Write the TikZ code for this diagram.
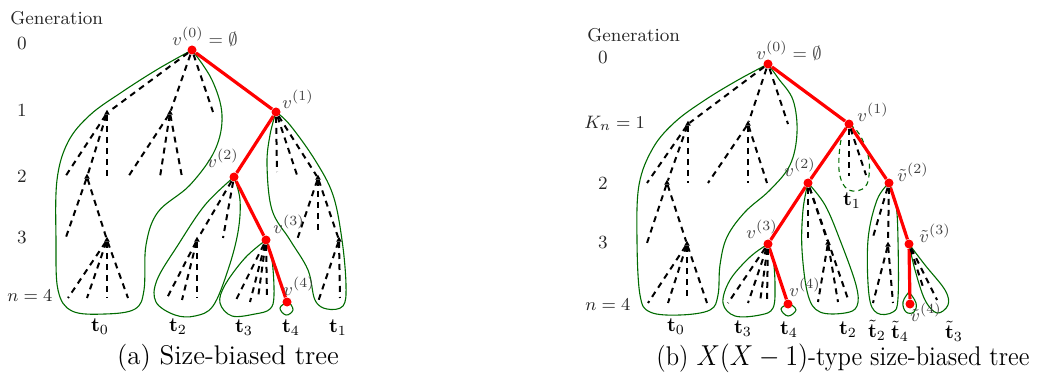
\documentclass[tikz,border=0pt]{standalone}
\usetikzlibrary{shapes.geometric}
\begin{document}
\begin{tikzpicture}[x=0.5pt,y=-0.5pt,
 dsh/.style={black, line width=1pt, dash pattern=on 3pt off 2.5pt},
 redge/.style={red, line width=1.6pt},
 rdot/.style={circle, fill=red, inner sep=0pt, minimum size=4.5pt},
 cont/.style={green!42!black, line width=0.55pt},
 contd/.style={green!42!black, line width=0.55pt, dash pattern=on 2.5pt off 2pt},
 tri/.style={regular polygon, regular polygon sides=3, fill=black, inner sep=0pt, minimum size=3.2pt},
 lbl/.style={text=black!75, font=\fontsize{9.5}{11}\selectfont, inner sep=0pt},
 gen/.style={text=black!85, font=\fontsize{9.3}{11}\selectfont, inner sep=0pt},
 tl/.style={font=\fontsize{9.6}{11}\selectfont, inner sep=0pt},
 captext/.style={font=\fontsize{13.5}{15}\selectfont, inner sep=0pt}]
\useasboundingbox (0,0) rectangle (1040,385);

%%%%%%%%%%%%%%%% LEFT TREE %%%%%%%%%%%%%%%%
\node[gen, anchor=west] (Lgen) at (10,18) {Generation};
\node[gen] (Lg0) at (22,44) {0};
\node[gen] (Lg1) at (22,110) {1};
\node[gen] (Lg2) at (22,176) {2};
\node[gen] (Lg3) at (22,238) {3};
\node[gen, anchor=west] (Lg4) at (7,296) {$n=4$};

% contours
\draw[cont] plot[smooth, tension=0.6] coordinates {(192,50) (158,69) (122,92) (90,115) (68,142) (57,180) (56,240) (58,290) (72,311) (105,314) (135,309) (144,290) (146,245) (158,212) (190,185) (215,150) (222,115) (212,80) (192,50)};
\draw[cont] plot[smooth, tension=0.6] coordinates {(234,177) (205,205) (178,245) (157,280) (156,302) (175,315) (195,316) (213,306) (228,270) (238,232) (240,200) (234,177)};
\draw[cont] plot[smooth, tension=0.6] coordinates {(266,240) (245,258) (225,285) (220,303) (232,316) (255,314) (270,309) (274,295) (272,260) (266,240)};
\draw[cont] plot[smooth, tension=0.7] coordinates {(287,302) (280,308) (286,315) (293,310) (289,302)};
\draw[cont] plot[smooth, tension=0.6] coordinates {(276,112) (270,135) (267,165) (272,210) (290,240) (308,270) (315,300) (327,309) (343,306) (346,285) (342,240) (333,195) (315,160) (290,125) (276,112)};

% red spine
\node[rdot] (Lv0) at (192,50) {};
\node[rdot] (Lv1) at (276,112) {};
\node[rdot] (Lv2) at (234,177) {};
\node[rdot] (Lv3) at (266,240) {};
\node[rdot] (Lv4) at (287,302) {};
\draw[redge] (Lv0) -- (Lv1);
\draw[redge] (Lv1) -- (Lv2);
\draw[redge] (Lv2) -- (Lv3);
\draw[redge] (Lv3) -- (Lv4);

% dashed subtree points
\node[tri] (La1) at (107,113) {};
\node[tri] (La2) at (170,113) {};
\coordinate (La3) at (213,112);
\coordinate (Lb1) at (65,177);
\node[tri] (Lb2) at (87,177) {};
\coordinate (Lb3) at (107,177);
\coordinate (Lb4) at (128,177);
\coordinate (Lb5) at (160,177);
\coordinate (Lb6) at (182,177);
\coordinate (Lc1) at (65,240);
\node[tri] (Lc2) at (107,240) {};
\coordinate (Ld1) at (68,298);
\coordinate (Ld2) at (87,298);
\coordinate (Ld3) at (107,298);
\coordinate (Ld4) at (128,298);
\node[tri] (Le1) at (197,240) {};
\coordinate (Le2) at (223,238);
\coordinate (Le3) at (167,298);
\coordinate (Le4) at (182,300);
\coordinate (Le5) at (197,298);
\coordinate (Lf1) at (235,302);
\coordinate (Lf2) at (250,302);
\coordinate (Lf3) at (258,298);
\coordinate (Lf4) at (267,298);
\coordinate (Lg1) at (277,172);
\coordinate (Lg2) at (297,175);
\node[tri] (Lg3) at (318,178) {};
\coordinate (Lg4) at (297,240);
\coordinate (Lg5) at (318,235);
\node[tri] (Lg6) at (339,240) {};
\coordinate (Lg7) at (318,302);
\coordinate (Lg8) at (340,298);

\foreach \a/\b in {Lv0/La1, Lv0/La2, Lv0/La3, La1/Lb1, La1/Lb2, La1/Lb3, La2/Lb4, La2/Lb5, La2/Lb6,
  Lb2/Lc1, Lb2/Lc2, Lc2/Ld1, Lc2/Ld2, Lc2/Ld3, Lc2/Ld4,
  Lv2/Le1, Lv2/Le2, Le1/Le3, Le1/Le4, Le1/Le5,
  Lv3/Lf1, Lv3/Lf2, Lv3/Lf3, Lv3/Lf4,
  Lv1/Lg1, Lv1/Lg2, Lv1/Lg3, Lg3/Lg4, Lg3/Lg5, Lg3/Lg6, Lg6/Lg7, Lg6/Lg8}
  \draw[dsh] (\a) -- (\b);

% labels
\node[lbl] (Ll0) at (205,37) {$v^{(0)}=\emptyset$};
\node[lbl] (Ll1) at (298,99) {$v^{(1)}$};
\node[lbl] (Ll2) at (223,158) {$v^{(2)}$};
\node[lbl] (Ll3) at (289,224) {$v^{(3)}$};
\node[lbl] (Ll4) at (299,286) {$v^{(4)}$};

\node[tl] (Lt0) at (100,327) {$\mathbf{t}_0$};
\node[tl] (Lt2) at (178,327) {$\mathbf{t}_2$};
\node[tl] (Lt3) at (244,328) {$\mathbf{t}_3$};
\node[tl] (Lt4) at (291,328) {$\mathbf{t}_4$};
\node[tl] (Lt1) at (338,328) {$\mathbf{t}_1$};

\node[captext] (capa) at (228,358) {(a) Size-biased tree};

%%%%%%%%%%%%%%%% RIGHT TREE %%%%%%%%%%%%%%%%
\node[gen, anchor=west] (Rgen) at (587,35) {Generation};
\node[gen] (Rg0) at (603,58) {0};
\node[gen, anchor=west] (Rg1) at (584,123) {$K_n=1$};
\node[gen] (Rg2) at (603,183) {2};
\node[gen] (Rg3) at (603,243) {3};
\node[gen, anchor=west] (Rg4) at (585,305) {$n=4$};

% contours
\draw[cont] plot[smooth, tension=0.6] coordinates {(768,64) (738,80) (705,100) (675,122) (653,148) (639,185) (637,240) (640,295) (650,312) (680,315) (710,310) (718,295) (720,265) (727,237) (745,212) (770,190) (790,165) (797,133) (793,100) (778,78) (768,64)};
\draw[cont] plot[smooth, tension=0.6] coordinates {(768,244) (750,257) (730,280) (723,303) (735,316) (760,315) (773,308) (775,285) (773,258) (768,244)};
\draw[cont] plot[smooth, tension=0.7] coordinates {(788,304) (781,309) (788,316) (796,310) (790,304)};
\draw[cont] plot[smooth, tension=0.6] coordinates {(808,183) (803,210) (802,250) (808,295) (820,312) (845,313) (857,306) (856,285) (840,240) (825,205) (808,183)};
\draw[contd] plot[smooth, tension=0.6] coordinates {(849,124) (841,140) (839,170) (845,187) (856,191) (867,184) (869,160) (860,135) (849,124)};
\draw[cont] plot[smooth, tension=0.6] coordinates {(889,183) (877,200) (868,240) (869,295) (877,313) (893,312) (898,298) (898,240) (896,205) (889,183)};
\draw[cont] plot[smooth, tension=0.6] coordinates {(909,244) (915,270) (925,300) (937,313) (948,305) (945,290) (925,265) (909,244)};
\draw[cont] plot[smooth, tension=0.7] coordinates {(909,292) (903,302) (906,312) (914,312) (916,303) (909,292)};

% red spine
\node[rdot] (Rv0) at (768,64) {};
\node[rdot] (Rv1) at (849,124) {};
\node[rdot] (Rv2) at (808,183) {};
\node[rdot] (Rw2) at (889,183) {};
\node[rdot] (Rv3) at (768,244) {};
\node[rdot] (Rv4) at (788,304) {};
\node[rdot] (Rw3) at (909,244) {};
\node[rdot] (Rw4) at (910,304) {};
\draw[redge] (Rv0) -- (Rv1);
\draw[redge] (Rv1) -- (Rv2);
\draw[redge] (Rv2) -- (Rv3);
\draw[redge] (Rv3) -- (Rv4);
\draw[redge] (Rv1) -- (Rw2);
\draw[redge] (Rw2) -- (Rw3);
\draw[redge] (Rw3) -- (Rw4);

% dashed subtree points
\node[tri] (Ra1) at (688,124) {};
\node[tri] (Ra2) at (748,124) {};
\coordinate (Ra3) at (788,124);
\coordinate (Rb1) at (647,183);
\node[tri] (Rb2) at (667,183) {};
\coordinate (Rb3) at (688,183);
\coordinate (Rb4) at (708,183);
\coordinate (Rb5) at (748,183);
\coordinate (Rb6) at (767,183);
\coordinate (Rc1) at (647,243);
\node[tri] (Rc2) at (687,244) {};
\coordinate (Rd1) at (648,303);
\coordinate (Rd2) at (668,303);
\coordinate (Rd3) at (687,301);
\coordinate (Rd4) at (707,303);
\coordinate (Re1) at (808,240);
\node[tri] (Re2) at (828,243) {};
\coordinate (Re3) at (818,302);
\coordinate (Re4) at (838,302);
\coordinate (Re5) at (849,302);
\coordinate (Rf1) at (728,303);
\coordinate (Rf2) at (748,303);
\coordinate (Rf3) at (760,302);
\coordinate (Rf4) at (767,300);
\coordinate (Rg1c) at (849,176);
\coordinate (Rg2c) at (866,175);
\coordinate (Rh1) at (873,237);
\node[tri] (Rh2) at (888,245) {};
\coordinate (Rh3) at (873,303);
\coordinate (Rh4) at (893,303);
\coordinate (Ri1) at (924,290);
\coordinate (Ri2) at (937,300);

\foreach \a/\b in {Rv0/Ra1, Rv0/Ra2, Rv0/Ra3, Ra1/Rb1, Ra1/Rb2, Ra1/Rb3, Ra2/Rb4, Ra2/Rb5, Ra2/Rb6,
  Rb2/Rc1, Rb2/Rc2, Rc2/Rd1, Rc2/Rd2, Rc2/Rd3, Rc2/Rd4,
  Rv2/Re1, Rv2/Re2, Re2/Re3, Re2/Re4, Rv2/Re5,
  Rv3/Rf1, Rv3/Rf2, Rv3/Rf3, Rv3/Rf4,
  Rv1/Rg1c, Rv1/Rg2c,
  Rw2/Rh1, Rw2/Rh2, Rh2/Rh3, Rh2/Rh4,
  Rw3/Ri1, Rw3/Ri2}
  \draw[dsh] (\a) -- (\b);

% labels
\node[lbl] (Rl0) at (789,51) {$v^{(0)}=\emptyset$};
\node[lbl] (Rl1) at (873,112) {$v^{(1)}$};
\node[lbl] (Rl2) at (800,167) {$v^{(2)}$};
\node[lbl] (Rlw2) at (913,172) {$\tilde v^{(2)}$};
\node[lbl] (Rl3) at (762,229) {$v^{(3)}$};
\node[lbl] (Rlw3) at (935,233) {$\tilde v^{(3)}$};
\node[lbl] (Rl4) at (805,287) {$v^{(4)}$};
\node[lbl] (Rlw4) at (926,312) {$\tilde v^{(4)}$};

\node[tl] (Rt1) at (852,201) {$\mathbf{t}_1$};
\node[tl] (Rt0) at (676,327) {$\mathbf{t}_0$};
\node[tl] (Rt3) at (743,329) {$\mathbf{t}_3$};
\node[tl] (Rt4) at (789,330) {$\mathbf{t}_4$};
\node[tl] (Rt2) at (848,330) {$\mathbf{t}_2$};
\node[tl] (Rtw2) at (877,330) {$\tilde{\mathbf{t}}_2$};
\node[tl] (Rtw4) at (900,331) {$\tilde{\mathbf{t}}_4$};
\node[tl] (Rtw3) at (954,331) {$\tilde{\mathbf{t}}_3$};

\node[captext] (capb) at (843,358) {\scalebox{0.91}[1]{(b) $X(X-1)$-type size-biased tree}};
\end{tikzpicture}
\end{document}
